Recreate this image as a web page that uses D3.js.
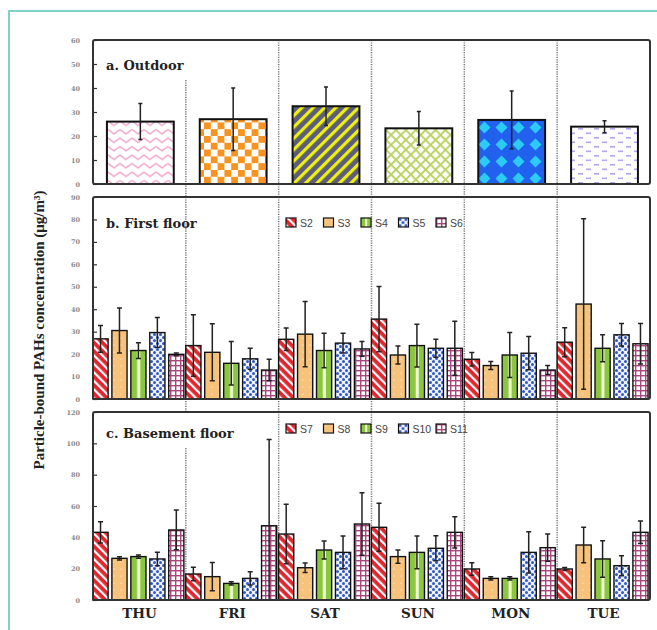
<!DOCTYPE html>
<html>
<head>
<meta charset="utf-8">
<script src="https://cdn.jsdelivr.net/npm/d3@7"></script>
<style>
  body { margin: 0; background: #fff; }
</style>
</head>
<body>
<svg id="chart" width="657" height="630"></svg>
<script>
// --- data ---
const days = ["THU", "FRI", "SAT", "SUN", "MON", "TUE"];

const outdoorMean = [26.0, 27.0, 32.4, 23.2, 26.7, 23.9];
const outdoorSd = [7.5, 13.0, 8.0, 7.0, 12.0, 2.5];

const firstSites = ["S2", "S3", "S4", "S5", "S6"];
// rows: days, cols: sites
const firstMean = [
    [26.8, 30.5, 21.6, 29.6, 19.9],
    [23.8, 20.8, 15.9, 17.9, 12.9],
    [26.6, 28.9, 21.6, 24.9, 22.3],
    [35.6, 19.6, 23.8, 22.6, 22.6],
    [17.7, 14.9, 19.6, 20.4, 12.9],
    [25.3, 42.3, 22.6, 28.6, 24.6],
];
const firstSd = [
    [6.0, 10.0, 3.5, 6.7, 0.6],
    [13.7, 12.7, 9.7, 4.7, 4.8],
    [5.0, 14.5, 7.7, 4.4, 3.3],
    [14.5, 4.0, 9.5, 4.0, 12.0],
    [3.0, 1.8, 10.0, 7.4, 2.0],
    [6.5, 38.0, 6.0, 5.0, 9.0],
];

const baseSites = ["S7", "S8", "S9", "S10", "S11"];
const baseMean = [
    [43.2, 26.6, 27.7, 26.2, 44.7],
    [16.6, 14.9, 10.6, 13.8, 47.4],
    [42.1, 20.6, 31.9, 30.4, 48.5],
    [46.4, 27.7, 30.4, 33.0, 43.2],
    [19.8, 13.8, 13.8, 30.4, 33.4],
    [19.8, 35.1, 26.2, 21.9, 43.2],
];
const baseSd = [
    [6.8, 1.0, 1.0, 4.3, 12.7],
    [4.3, 9.0, 1.0, 4.3, 55.0],
    [19.0, 3.0, 5.8, 10.5, 20.0],
    [15.3, 4.2, 10.5, 8.0, 10.0],
    [4.0, 1.0, 1.0, 13.2, 8.7],
    [1.0, 11.3, 11.6, 6.4, 7.2],
];

const ticksA = [0, 10, 20, 30, 40, 50, 60];
const ticksB = [0, 10, 20, 30, 40, 50, 60, 70, 80, 90];
const ticksC = [0, 20, 40, 60, 80, 100, 120];

// --- layout ---
const LEFT = 93;
const RIGHT = 650;
const SERIF = "'DejaVu Serif', 'Liberation Serif', serif";
const TIMES = "'Liberation Serif', 'Times New Roman', serif";

const svg = d3.select("#chart");
svg.append("rect")
    .attr("x", 9).attr("y", 11)
    .attr("width", 1000).attr("height", 1000)
    .attr("fill", "none")
    .attr("stroke", "#7fd3c6")
    .attr("stroke-width", 2);

const x0 = d3.scaleBand().domain(days).range([LEFT, RIGHT]).padding(0);

// --- patterns ---
const defs = svg.append("defs");

function pattern(id, w, h, bg, transform) {
    const p = defs.append("pattern")
        .attr("id", id)
        .attr("patternUnits", "userSpaceOnUse")
        .attr("width", w)
        .attr("height", h);
    if (transform) p.attr("patternTransform", transform);
    p.append("rect").attr("width", w).attr("height", h).attr("fill", bg);
    return p;
}

// outdoor
pattern("pZig", 12, 8.5, "#fff")
    .append("path")
    .attr("d", "M0,2 L6,6.5 L12,2")
    .attr("fill", "none")
    .attr("stroke", "#f19fc6")
    .attr("stroke-width", 1.3);

const chk = pattern("pCheck", 13.6, 13.6, "#fff");
chk.append("rect").attr("width", 6.8).attr("height", 6.8).attr("fill", "#f7931e");
chk.append("rect").attr("x", 6.8).attr("y", 6.8).attr("width", 6.8).attr("height", 6.8).attr("fill", "#f7931e");

pattern("pSat", 8, 8, "#5c5c7c", "rotate(45)")
    .append("rect").attr("width", 3.2).attr("height", 8).attr("fill", "#eef00e");

const lat = pattern("pLat", 7, 7, "#fff", "rotate(45)");
lat.append("rect").attr("width", 1.8).attr("height", 7).attr("fill", "#b7d25c");
lat.append("rect").attr("width", 7).attr("height", 1.8).attr("fill", "#b7d25c");

pattern("pDia", 17, 17, "#2161ee")
    .append("path")
    .attr("d", "M8.5,2.5 L14.5,8.5 L8.5,14.5 L2.5,8.5Z")
    .attr("fill", "#2ccaf6");

const dash = pattern("pDash", 16, 9, "#fff");
dash.append("rect").attr("x", 2).attr("y", 2).attr("width", 5).attr("height", 1.6).attr("fill", "#b6a5ee");
dash.append("rect").attr("x", 10).attr("y", 6.5).attr("width", 5).attr("height", 1.6).attr("fill", "#b6a5ee");

const outdoorPatterns = ["pZig", "pCheck", "pSat", "pLat", "pDia", "pDash"];

// sites
pattern("pS2", 6, 6, "#e3262e", "rotate(-45)")
    .append("rect").attr("width", 2.2).attr("height", 6).attr("fill", "#fff");

pattern("pS3", 7, 7, "#f6c27c")
    .append("circle").attr("cx", 2).attr("cy", 2).attr("r", 0.6).attr("fill", "#fff");

const s4 = defs.append("pattern")
    .attr("id", "pS4")
    .attr("patternUnits", "objectBoundingBox")
    .attr("patternContentUnits", "objectBoundingBox")
    .attr("width", 1).attr("height", 1);
s4.append("rect").attr("width", 1).attr("height", 1).attr("fill", "#8cc63f");
s4.append("rect").attr("x", 0.42).attr("width", 0.2).attr("height", 1).attr("fill", "#eef8d6");

const s5 = pattern("pS5", 6, 6, "#eef2fc");
s5.append("circle").attr("cx", 1.5).attr("cy", 1.5).attr("r", 1.5).attr("fill", "#3158c8");
s5.append("circle").attr("cx", 4.5).attr("cy", 4.5).attr("r", 1.5).attr("fill", "#3158c8");

const s6 = pattern("pS6", 5, 5, "#fff");
s6.append("rect").attr("width", 5).attr("height", 1.4).attr("fill", "#a8467e");
s6.append("rect").attr("width", 1.4).attr("height", 5).attr("fill", "#a8467e");

const sitePatterns = ["pS2", "pS3", "pS4", "pS5", "pS6"];

// --- helpers ---
function drawFrame(top, bottom, ticks, title, titleY) {
    const y = d3.scaleLinear()
        .domain([0, ticks[ticks.length - 1]])
        .range([bottom, top]);

    const axis = svg.append("g")
        .attr("transform", `translate(${LEFT},0)`)
        .call(d3.axisLeft(y).tickValues(ticks).tickSize(-4).tickPadding(13));
    axis.select(".domain").remove();
    axis.selectAll(".tick line").attr("stroke", "#333").attr("stroke-width", 1.2);
    axis.selectAll(".tick text")
        .attr("fill", "#8a8a8a")
        .style("font-family", SERIF)
        .style("font-size", "6.5px")
        .style("font-weight", "bold");

    svg.append("text")
        .attr("x", 106)
        .attr("y", titleY)
        .style("font-family", SERIF)
        .style("font-size", "13px")
        .style("font-weight", "bold")
        .attr("fill", "#222")
        .text(title);

    return y;
}

function drawBox(top, bottom) {
    svg.append("rect")
        .attr("x", LEFT).attr("y", top)
        .attr("width", RIGHT - LEFT).attr("height", bottom - top)
        .attr("rx", 2)
        .attr("fill", "none")
        .attr("stroke", "#333")
        .attr("stroke-width", 2);
}

function drawDividers(top, bottom, firstTop) {
    svg.append("g")
        .selectAll("line")
        .data(days.slice(1))
        .join("line")
        .attr("x1", (d) => x0(d))
        .attr("x2", (d) => x0(d))
        .attr("y1", (d, i) => (i === 0 ? firstTop : top))
        .attr("y2", bottom)
        .attr("stroke", "#777")
        .attr("stroke-width", 1.5)
        .attr("stroke-dasharray", "1.2,1.2");
}

function drawErrors(g, data, y, half) {
    g.selectAll("path.err")
        .data(data)
        .join("path")
        .attr("class", "err")
        .attr("d", (d) => {
            const yt = y(d.m + d.s);
            const yb = y(Math.max(0, d.m - d.s));
            return `M${d.cx},${yb}V${yt}M${d.cx - half},${yt}H${d.cx + half}M${d.cx - half},${yb}H${d.cx + half}`;
        })
        .attr("fill", "none")
        .attr("stroke", "#222")
        .attr("stroke-width", 1.5);
}

// --- panel a ---
const aTop = 40, aBottom = 184;
drawDividers(aTop, 197, 80);
const yA = drawFrame(aTop, aBottom, ticksA, "a. Outdoor", 70);
const aData = days.map((d, i) => ({
    day: d,
    m: outdoorMean[i],
    s: outdoorSd[i],
    x: x0(d) + x0.bandwidth() * 0.15,
    w: x0.bandwidth() * 0.72,
    fill: outdoorPatterns[i],
}));
aData.forEach((d) => (d.cx = d.x + d.w / 2));
const gA = svg.append("g");
gA.selectAll("rect")
    .data(aData)
    .join("rect")
    .attr("x", (d) => d.x)
    .attr("y", (d) => yA(d.m))
    .attr("width", (d) => d.w)
    .attr("height", (d) => aBottom - yA(d.m))
    .attr("fill", (d) => `url(#${d.fill})`)
    .attr("stroke", "#111")
    .attr("stroke-width", 2);
drawErrors(gA, aData, yA, 2);
drawBox(aTop, aBottom);

// --- grouped panels ---
function drawGrouped(top, bottom, ticks, title, titleY, sites, mean, sd, legendY, firstTop, gapBottom) {
    drawDividers(top, gapBottom, firstTop);
    const y = drawFrame(top, bottom, ticks, title, titleY);
    const x1 = d3.scaleBand()
        .domain(sites)
        .range([0, x0.bandwidth()])
        .paddingInner(0.2)
        .paddingOuter(0.05);

    const data = [];
    days.forEach((d, i) => {
        sites.forEach((s, j) => {
            const x = x0(d) + x1(s) - 1;
            data.push({ m: mean[i][j], s: sd[i][j], x, cx: x + x1.bandwidth() / 2, fill: sitePatterns[j] });
        });
    });

    const g = svg.append("g");
    g.selectAll("rect")
        .data(data)
        .join("rect")
        .attr("x", (d) => d.x)
        .attr("y", (d) => y(d.m))
        .attr("width", x1.bandwidth())
        .attr("height", (d) => bottom - y(d.m))
        .attr("fill", (d) => `url(#${d.fill})`)
        .attr("stroke", "#111")
        .attr("stroke-width", 1.4);
    drawErrors(g, data, y, 2.5);
    drawBox(top, bottom);

    // legend
    const lg = svg.append("g").attr("transform", `translate(286,${legendY})`);
    const item = lg.selectAll("g")
        .data(sites)
        .join("g")
        .attr("transform", (d, i) => `translate(${i * 37.5},0)`);
    item.append("rect")
        .attr("width", 10).attr("height", 9)
        .attr("fill", (d, i) => `url(#${sitePatterns[i]})`)
        .attr("stroke", "#111")
        .attr("stroke-width", 1.2);
    item.append("text")
        .attr("x", 14).attr("y", 8.5)
        .style("font-family", "'Liberation Sans', Arial, sans-serif")
        .style("font-size", "10.5px")
        .attr("fill", "#444")
        .text((d) => d);
}

drawGrouped(197, 399, ticksB, "b. First floor", 228, firstSites, firstMean, firstSd, 218, 197, 412);
drawGrouped(412, 600, ticksC, "c. Basement floor", 438, baseSites, baseMean, baseSd, 424, 448, 600);

// --- x axis ---
const xAxis = svg.append("g")
    .attr("transform", "translate(0,600)")
    .call(d3.axisBottom(x0).tickSize(0).tickPadding(8));
xAxis.select(".domain").remove();
xAxis.selectAll(".tick text")
    .attr("fill", "#222")
    .style("font-family", SERIF)
    .style("font-size", "13.5px")
    .style("font-weight", "bold");

// --- y label ---
svg.append("text")
    .attr("transform", "translate(44,330) rotate(-90)")
    .attr("text-anchor", "middle")
    .style("font-family", TIMES)
    .style("font-size", "15px")
    .style("font-weight", "bold")
    .attr("fill", "#222")
    .text("Particle-bound PAHs concentration (\u03bcg/m\u00b3)");
</script>
</body>
</html>
